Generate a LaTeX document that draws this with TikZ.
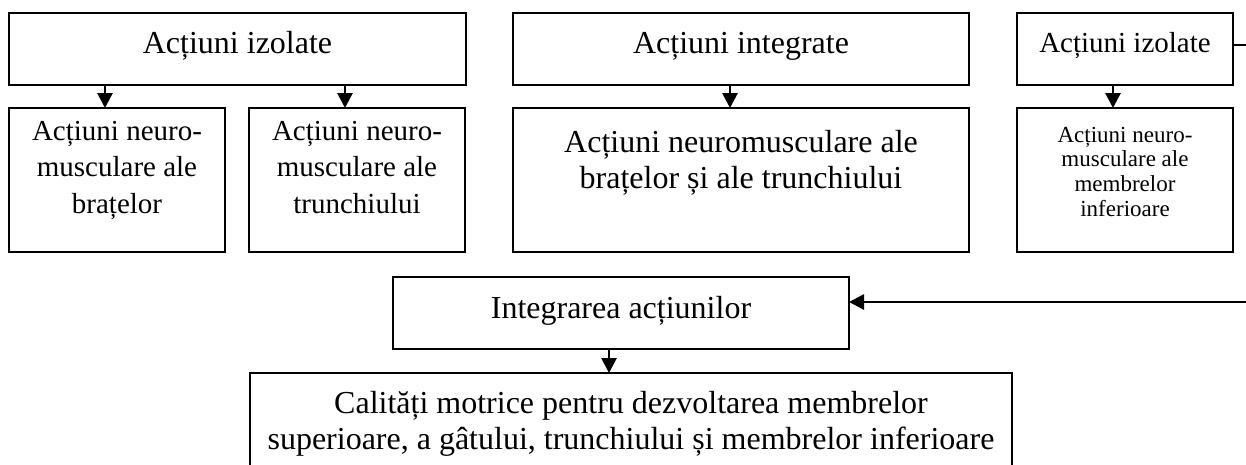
\documentclass[tikz,border=0pt]{standalone}
\usepackage{fontspec}
\setmainfont{Liberation Serif}
\usetikzlibrary{arrows.meta}
\newcommand{\mybx}[4]{\parbox[c][#2pt][t]{#1pt}{\centering\rule{0pt}{#3pt}#4}}
\begin{document}
\begin{tikzpicture}[x=1pt,y=-1pt,
  bx/.style={draw, line width=2.6pt, inner sep=0pt, outer sep=0pt, anchor=north west},
  big/.style={font=\fontsize{32}{36}\selectfont},
  mid/.style={font=\fontsize{29}{36.5}\selectfont},
  sml/.style={font=\fontsize{23}{24.8}\selectfont},
  arr/.style={line width=2.8pt, -{Triangle[length=15pt,width=15pt]}}]
\clip (0,0) rectangle (1246,464);
\fill[white] (0,0) rectangle (1246,464);
% top row
\node[bx,big] (A) at (9,13) {\mybx{457}{72}{40}{Acțiuni izolate}};
\node[bx,mid] (B1) at (9,108) {\mybx{216}{144}{32}{Acțiuni neuro-\\musculare ale\\brațelor}};
\node[bx,mid] (B2) at (249,108) {\mybx{216}{144}{32}{Acțiuni neuro-\\musculare ale\\trunchiului}};
\node[bx,big] (C) at (513,13) {\mybx{456}{72}{40}{Acțiuni integrate}};
\node[bx,big] (D) at (513,108) {\mybx{456}{144}{44}{Acțiuni neuromusculare ale\\brațelor și ale trunchiului}};
\node[bx,mid] (E) at (1017,13) {\mybx{216}{72}{39}{Acțiuni izolate}};
\node[bx,sml] (F) at (1017,108) {\mybx{216}{144}{34}{Acțiuni neuro-\\musculare ale\\membrelor\\inferioare}};
% lower
\node[bx,big] (G) at (393,277) {\mybx{456}{72}{41}{Integrarea acțiunilor}};
\node[bx,big] (H) at (250,373) {\mybx{762}{110}{40}{Calități motrice pentru dezvoltarea membrelor\\superioare, a gâtului, trunchiului și membrelor inferioare}};
% connectors
\coordinate (xa1) at (105,0);
\coordinate (xa2) at (345,0);
\coordinate (xc) at (730,0);
\coordinate (xe) at (1113,0);
\coordinate (xg) at (609,0);
\draw[arr] (xa1 |- A.south) -- (xa1 |- B1.north);
\draw[arr] (xa2 |- A.south) -- (xa2 |- B2.north);
\draw[arr] (xc |- C.south) -- (xc |- D.north);
\draw[arr] (xe |- E.south) -- (xe |- F.north);
\draw[arr] (xg |- G.south) -- (xg |- H.north);
\coordinate (R1) at (1262,45);
\coordinate (R2) at (1262,302);
\draw[arr] ([yshift=4pt]E.east) -- (R1) -- (R2) -- ([yshift=11pt]G.east);
\end{tikzpicture}
\end{document}
